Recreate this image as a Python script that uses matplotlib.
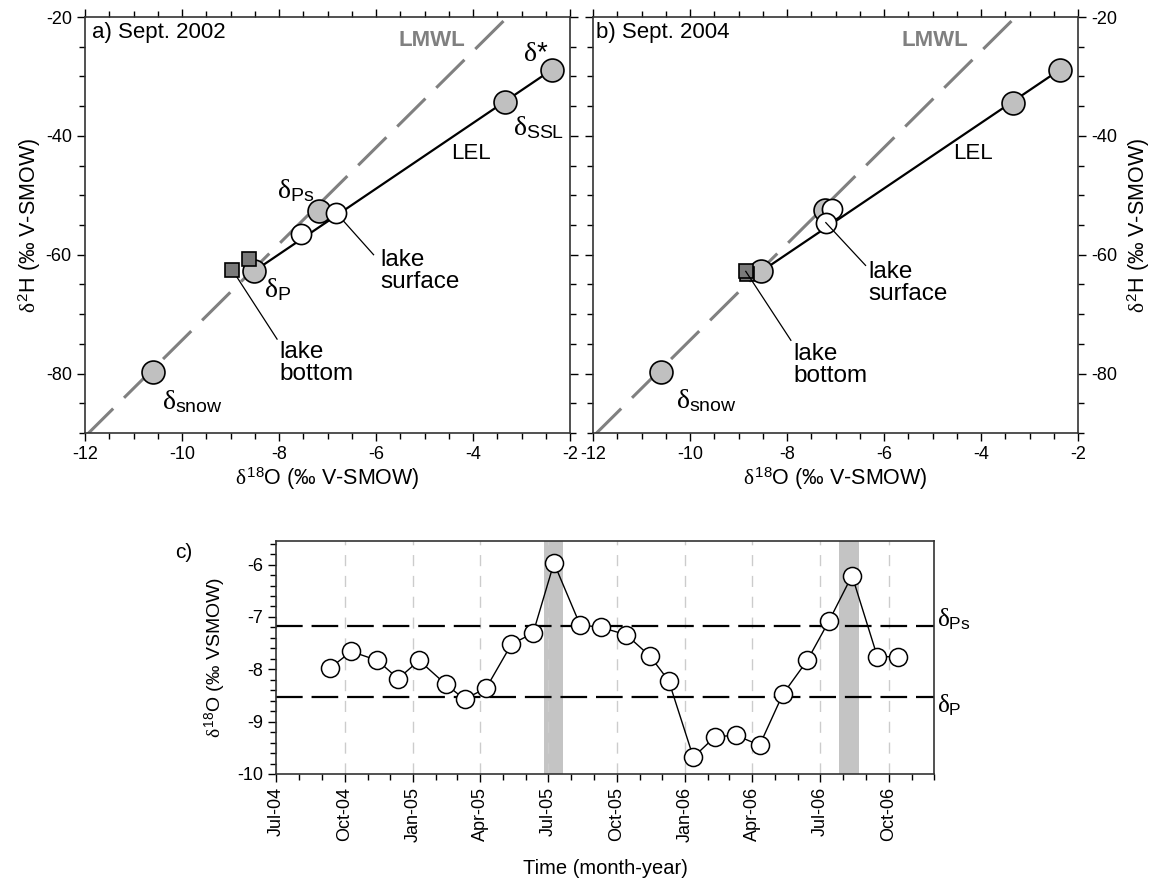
import matplotlib
matplotlib.use("Agg")
import matplotlib.pyplot as plt
import matplotlib.dates as mdates
from matplotlib.ticker import MultipleLocator
from matplotlib.transforms import blended_transform_factory
import datetime as dt

plt.rcParams['font.family'] = ['Liberation Sans', 'DejaVu Sans']
plt.rcParams['mathtext.fontset'] = 'custom'
plt.rcParams['mathtext.rm'] = 'Liberation Sans'
plt.rcParams['mathtext.it'] = 'Liberation Serif'
plt.rcParams['mathtext.bf'] = 'Liberation Sans:bold'
plt.rcParams['axes.unicode_minus'] = False

# ---------------- data: panel a (Sept. 2002) ----------------
a_end_x = [-2.37, -3.34, -7.18, -8.52, -10.59]       # delta*, dSSL, dPs, dP, dsnow
a_end_y = [-28.85, -34.25, -52.7, -62.8, -79.7]
a_surf_x = [-6.82, -7.55]
a_surf_y = [-52.96, -56.5]
a_bot_x = [-8.61, -8.96]
a_bot_y = [-60.7, -62.6]

# ---------------- data: panel b (Sept. 2004) ----------------
b_end_x = [-2.37, -3.34, -7.21, -8.53, -10.60]
b_end_y = [-28.85, -34.4, -52.5, -62.8, -79.7]
b_surf_x = [-7.08, -7.20]
b_surf_y = [-52.3, -54.6]
b_bot_x = [-8.83, -8.85]
b_bot_y = [-63.3, -62.8]

# LMWL end points (d18O, d2H)
lmwl_x = [-12.0, -3.30]
lmwl_y = [-90.6, -20.1]

# ---------------- data: panel c (time series) ----------------
c_dates = ['2004-09-12', '2004-10-10', '2004-11-14', '2004-12-12', '2005-01-09',
           '2005-02-14', '2005-03-11', '2005-04-09', '2005-05-13', '2005-06-11',
           '2005-07-09', '2005-08-13', '2005-09-10', '2005-10-14', '2005-11-15',
           '2005-12-10', '2006-01-12', '2006-02-10', '2006-03-10', '2006-04-11',
           '2006-05-12', '2006-06-14', '2006-07-13', '2006-08-13', '2006-09-16',
           '2006-10-14']
c_d18o = [-7.97, -7.66, -7.83, -8.18, -7.83, -8.29, -8.57, -8.36, -7.52, -7.31,
          -5.97, -7.15, -7.20, -7.34, -7.75, -8.22, -9.68, -9.29, -9.26, -9.45,
          -8.48, -7.83, -7.08, -6.21, -7.76, -7.76]
c_bands = [('2005-06-25', '2005-07-21'), ('2006-07-27', '2006-08-23')]
delta_Ps = -7.18
delta_P = -8.52

W, H = 1160, 886
fig = plt.figure(figsize=(W / 100, H / 100), dpi=100)

def fr(l, t, r, b):
    return [l / W, 1 - b / H, (r - l) / W, (b - t) / H]

ax_a = fig.add_axes(fr(85, 17, 570, 433))
ax_b = fig.add_axes(fr(593, 17, 1078, 433))
ax_c = fig.add_axes(fr(276, 541, 934, 774))

spine_col = '#333333'
GRAYFILL = '#c0c0c0'
SQFILL = '#7a7a7a'
TS = 13
LS = 15.5

def iso_axes(ax):
    ax.set_xlim(-12, -2)
    ax.set_ylim(-90, -20)
    ax.xaxis.set_major_locator(MultipleLocator(2))
    ax.xaxis.set_minor_locator(MultipleLocator(0.5))
    ax.yaxis.set_major_locator(MultipleLocator(20))
    ax.yaxis.set_minor_locator(MultipleLocator(5))
    ax.tick_params(which='both', direction='out', top=True, right=True, left=True, bottom=True,
                   labelsize=TS, colors='black')
    ax.tick_params(which='major', length=6, width=1)
    ax.tick_params(which='minor', length=4, width=1)
    for s in ax.spines.values():
        s.set_color(spine_col)
        s.set_linewidth(1.2)
    ax.set_xlabel(r'$\delta^{18}$O (‰ V-SMOW)', fontsize=LS, labelpad=2)
    ax.plot(lmwl_x, lmwl_y, color='#808080', lw=2.2, dashes=(13, 5), zorder=1)

def draw_iso(ax, ex, ey, sx, sy, bx, by):
    ax.plot([ex[3], ex[0]], [ey[3], ey[0]], color='black', lw=1.6, zorder=2)
    ax.plot(ex, ey, 'o', ms=16.5, mfc=GRAYFILL, mec='black', mew=1.2, zorder=3)
    ax.plot(sx, sy, 'o', ms=14.5, mfc='white', mec='black', mew=1.2, zorder=4)
    ax.plot(bx, by, 's', ms=9.5, mfc=SQFILL, mec='black', mew=1.2, zorder=5)

LK = 17.5
DS = 20
AS = 16

# panel a
iso_axes(ax_a)
ax_a.tick_params(labelleft=True, labelright=False)
ax_a.set_ylabel(r'$\delta^{2}$H (‰ V-SMOW)', fontsize=LS, labelpad=2)
draw_iso(ax_a, a_end_x, a_end_y, a_surf_x, a_surf_y, a_bot_x, a_bot_y)
lw_lead = 0.9
ax_a.plot([a_surf_x[0], -6.05], [a_surf_y[0], -60.0], color='black', lw=lw_lead, zorder=3.5)
ax_a.plot([a_bot_x[1], -8.04], [a_bot_y[1], -74.2], color='black', lw=lw_lead, zorder=4.5)
ax_a.text(-5.92, -59.0, 'lake\nsurface', fontsize=LK, va='top', ha='left', linespacing=1.0)
ax_a.text(-7.99, -74.5, 'lake\nbottom', fontsize=LK, va='top', ha='left', linespacing=1.0)
ax_a.text(-2.97, -26.2, r'$\delta$*', fontsize=DS, va='center', ha='left')
ax_a.text(-3.17, -38.7, r'$\delta_{\mathrm{SSL}}$', fontsize=DS, va='center', ha='left')
ax_a.text(-8.04, -49.3, r'$\delta_{\mathrm{Ps}}$', fontsize=DS, va='center', ha='left')
ax_a.text(-8.30, -65.9, r'$\delta_{\mathrm{P}}$', fontsize=DS, va='center', ha='left')
ax_a.text(-10.42, -84.8, r'$\delta_{\mathrm{snow}}$', fontsize=DS, va='center', ha='left')
ax_a.text(-4.46, -43.0, 'LEL', fontsize=AS, va='center', ha='left')
ax_a.text(-5.53, -23.9, 'LMWL', fontsize=AS, va='center', ha='left', color='#808080', fontweight='bold')
ax_a.text(-11.86, -22.6, 'a) Sept. 2002', fontsize=AS, va='center', ha='left')

# panel b
iso_axes(ax_b)
ax_b.tick_params(labelleft=False, labelright=True)
ax_b.yaxis.set_label_position('right')
ax_b.set_ylabel(r'$\delta^{2}$H (‰ V-SMOW)', fontsize=LS, labelpad=6)
draw_iso(ax_b, b_end_x, b_end_y, b_surf_x, b_surf_y, b_bot_x, b_bot_y)
ax_b.plot([b_surf_x[1], -6.38], [b_surf_y[1], -61.8], color='black', lw=lw_lead, zorder=4.5)
ax_b.plot([b_bot_x[1], -7.92], [b_bot_y[1], -74.4], color='black', lw=lw_lead, zorder=5.5)
ax_b.text(-6.32, -61.1, 'lake\nsurface', fontsize=LK, va='top', ha='left', linespacing=1.0)
ax_b.text(-7.86, -74.8, 'lake\nbottom', fontsize=LK, va='top', ha='left', linespacing=1.0)
ax_b.text(-10.29, -84.6, r'$\delta_{\mathrm{snow}}$', fontsize=DS, va='center', ha='left')
ax_b.text(-4.57, -42.9, 'LEL', fontsize=AS, va='center', ha='left')
ax_b.text(-5.63, -23.9, 'LMWL', fontsize=AS, va='center', ha='left', color='#808080', fontweight='bold')
ax_b.text(-11.94, -22.6, 'b) Sept. 2004', fontsize=AS, va='center', ha='left')

# panel c
dates = [dt.datetime.strptime(d, '%Y-%m-%d') for d in c_dates]
ax_c.set_xlim(dt.datetime(2004, 7, 1), dt.datetime(2006, 12, 1))
ax_c.set_ylim(-10, -5.55)
for s0, s1 in c_bands:
    ax_c.axvspan(dt.datetime.strptime(s0, '%Y-%m-%d'), dt.datetime.strptime(s1, '%Y-%m-%d'),
                 color='#c4c4c4', lw=0, zorder=0.5)
ax_c.xaxis.set_major_locator(mdates.MonthLocator(bymonth=[1, 4, 7, 10]))
ax_c.xaxis.set_minor_locator(mdates.MonthLocator())
ax_c.xaxis.set_major_formatter(mdates.DateFormatter('%b-%y'))
ax_c.yaxis.set_major_locator(MultipleLocator(1))
ax_c.yaxis.set_minor_locator(MultipleLocator(0.2))
ax_c.grid(axis='x', which='major', color='#cccccc', lw=1, dashes=(8, 7), zorder=0.3)
ax_c.set_axisbelow(True)
ax_c.tick_params(which='both', direction='out', top=False, right=False, labelsize=TS)
ax_c.tick_params(which='major', length=6, width=1)
ax_c.tick_params(which='minor', length=4, width=1)
for lbl in ax_c.get_xticklabels():
    lbl.set_rotation(90)
for s in ax_c.spines.values():
    s.set_color(spine_col)
    s.set_linewidth(1.2)
ax_c.axhline(delta_Ps, color='black', lw=1.6, dashes=(12, 4), zorder=1)
ax_c.axhline(delta_P, color='black', lw=1.6, dashes=(12, 4), zorder=1)
ax_c.plot(dates, c_d18o, '-', color='black', lw=1, zorder=2)
ax_c.plot(dates, c_d18o, 'o', ms=13, mfc='white', mec='black', mew=1.1, zorder=3, clip_on=False)
ax_c.set_ylabel(r'$\delta^{18}$O (‰ VSMOW)', fontsize=14, labelpad=6)
ax_c.set_xlabel('Time (month-year)', fontsize=14.5, labelpad=12)
tr = blended_transform_factory(ax_c.transAxes, ax_c.transData)
ax_c.text(1.005, delta_Ps + 0.13, r'$\delta_{\mathrm{Ps}}$', transform=tr, fontsize=18, va='center', ha='left')
ax_c.text(1.005, delta_P - 0.16, r'$\delta_{\mathrm{P}}$', transform=tr, fontsize=18, va='center', ha='left')
fig.text(175 / W, 1 - 552 / H, 'c)', fontsize=15, va='center', ha='left')

fig.savefig('out.png', dpi=100)
